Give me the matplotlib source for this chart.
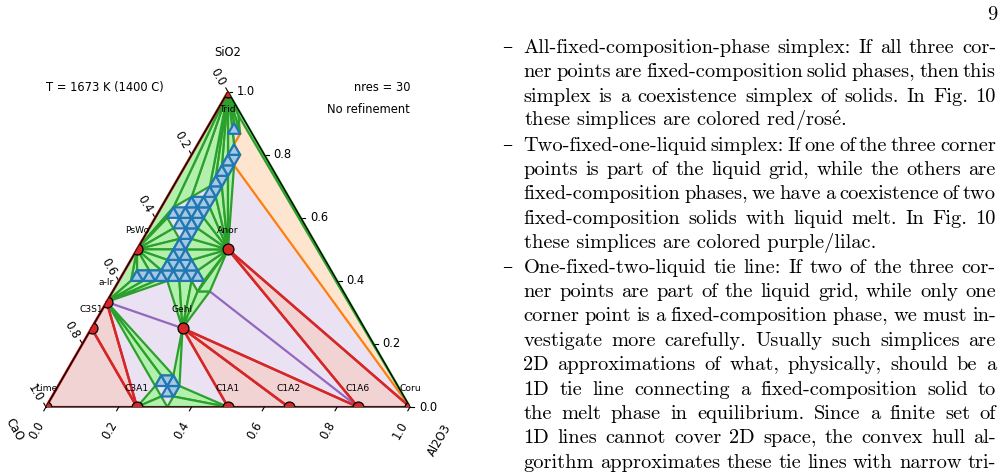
import numpy as np
import matplotlib
matplotlib.use("Agg")
import matplotlib.pyplot as plt
from matplotlib.patches import Polygon

plt.rcParams["mathtext.fontset"] = "cm"

W, H, DPI = 1002, 473, 100
N = 30                      # nres
R3 = np.sqrt(3) / 2

# fixed-composition phases: mole fractions of Al2O3 and SiO2 (rest is CaO)
PHASES = ["Lime", "C3A1", "C1A1", "C1A2", "C1A6", "Coru",
          "Trid", "Anor", "Gehl", "PsWo", "a-lr", "C3S1"]
PH_AL2O3 = [0, 1/4, 1/2, 2/3, 6/7, 1, 0, 1/4, 1/4, 0, 0, 0]
PH_SIO2 = [0, 0, 0, 0, 0, 0, 1, 1/2, 1/4, 1/2, 1/3, 1/4]

# extra liquid point close to the SiO2-Al2O3 side
G0_AL2O3, G0_SIO2 = 0.066, 0.925

# liquid grid points: row j (SiO2 index) with Al2O3 index range
LIQ_J = [0, 1, 2, 3, 11, 12, 13, 14, 15, 16, 17, 18, 19, 20, 21, 22, 23, 24, 25, 26, 27]
LIQ_IMIN = [10, 9, 8, 8, 7, 1, 1, 3, 3, 3, 2, 1, 1, 2, 3, 3, 3, 3, 3, 2, 2]
LIQ_IMAX = [10, 10, 10, 9, 7, 7, 6, 5, 4, 4, 4, 4, 4, 4, 4, 4, 4, 4, 3, 3, 2]

# green fans: solid -> liquid points (i, j) on the liquid boundary
FAN_TRID = ["G0", (3, 26), (2, 27), (2, 26), (3, 25), (3, 24), (3, 23), (3, 22),
            (3, 21), (2, 20), (1, 19), "PsWo"]
FAN_PSWO = [(1, 19), (1, 18), (2, 17), (3, 16), (3, 15), (3, 14), (3, 13),
            (2, 13), (1, 13), (1, 12)]
FAN_ALR_TOP = ["PsWo", (1, 12), (2, 12), (3, 12), (4, 12)]
FAN_GEHL_TOP = [(4, 12), (5, 12), (6, 12), (7, 11), (8, 11)]
FAN_ANOR = [(8, 11), (7, 11), (7, 12), (6, 13), (5, 14), (4, 15), (4, 16), (4, 17),
            (4, 18), (4, 19), (4, 20), (4, 21), (4, 22), (4, 23)]
FAN_ALR_LOW = [(8, 2), (8, 3), (9, 3)]
FAN_C3A1 = [(8, 2), (9, 1), (10, 0)]
FAN_GEHL_LOW = [(9, 3), (10, 2)]
FAN_C1A1 = [(10, 2), (10, 1), (10, 0)]
FANS = [("Trid", FAN_TRID), ("PsWo", FAN_PSWO), ("a-lr", FAN_ALR_TOP),
        ("Gehl", FAN_GEHL_TOP), ("Anor", FAN_ANOR), ("a-lr", FAN_ALR_LOW),
        ("C3A1", FAN_C3A1), ("Gehl", FAN_GEHL_LOW), ("C1A1", FAN_C1A1)]

PINK = [("Lime", "C3S1", "C3A1"), ("C3S1", "a-lr", "C3A1"), ("Gehl", "C1A1", "C1A2"),
        ("Gehl", "C1A2", "C1A6"), ("Anor", "C1A6", "Coru")]
RED_LINES = [("C3S1", "C3A1"), ("a-lr", "C3A1"), ("Gehl", "C1A1"), ("Gehl", "C1A2"),
             ("Gehl", "C1A6"), ("Anor", "C1A6"), ("Anor", "Coru"),
             ("Lime", "Trid"), ("Lime", "Coru")]
PURPLE_LINES = [("a-lr", "Gehl"), ((8, 11), "C1A6")]
PEACH = ["G0", (3, 26), (3, 25), (4, 24), (4, 23), "Coru"]
ORANGE_LINE = [(3, 26), (3, 25), (4, 24), (4, 23), "Coru"]
GREEN_BAND = ["Trid", "G0", "Coru"]

TICKS = [0.0, 0.2, 0.4, 0.6, 0.8, 1.0]

TEXT_LINES = [
    "All-fixed-composition-phase simplex: If all three cor-",
    "ner points are fixed-composition solid phases, then this",
    "simplex is a coexistence simplex of solids. In Fig. 10",
    r"these simplices are colored red/ros$\mathrm{\acute{e}}$.",
    "Two-fixed-one-liquid simplex: If one of the three corner",
    "points is part of the liquid grid, while the others are",
    "fixed-composition phases, we have a coexistence of two",
    "fixed-composition solids with liquid melt. In Fig. 10",
    "these simplices are colored purple/lilac.",
    "One-fixed-two-liquid tie line: If two of the three cor-",
    "ner points are part of the liquid grid, while only one",
    "corner point is a fixed-composition phase, we must in-",
    "vestigate more carefully. Usually such simplices are",
    "2D approximations of what, physically, should be a",
    "1D tie line connecting a fixed-composition solid to",
    "the melt phase in equilibrium. Since a finite set of",
    "1D lines cannot cover 2D space, the convex hull al-",
    "gorithm approximates these tie lines with narrow tri-",
]
BULLET_LINES = [0, 4, 9]
RAGGED_LINES = [3, 8]

C_LILAC, C_PINK, C_PEACH = "#eae1f2", "#f2d3d4", "#fde5cf"
C_GREEN_F, C_BLUE_F = "#b3f0ad", "#a6c8e1"
C_GREEN, C_BLUE, C_RED = "#2ca02c", "#1f77b4", "#d62728"
C_PURPLE, C_ORANGE = "#9467bd", "#ff7f0e"


def xy(a, s):
    return a + s / 2, s * R3


PT = {n: xy(a, s) for n, a, s in zip(PHASES, PH_AL2O3, PH_SIO2)}
PT["G0"] = xy(G0_AL2O3, G0_SIO2)


def pt(p):
    if isinstance(p, str):
        return PT[p]
    return xy(p[0] / N, p[1] / N)


fig = plt.figure(figsize=(W / DPI, H / DPI), dpi=DPI)
ax = fig.add_axes([46 / W, (H - 407) / H, 364 / W, 364 * R3 / H])
ax.set_xlim(0, 1)
ax.set_ylim(0, R3)
ax.axis("off")

corners = [pt("Lime"), pt("Coru"), pt("Trid")]
tri = Polygon(corners, closed=True, fc=C_LILAC, ec="none", zorder=1)
ax.add_patch(tri)

for t in PINK:
    ax.add_patch(Polygon([pt(p) for p in t], fc=C_PINK, ec=C_RED, lw=1.6, zorder=2))
ax.add_patch(Polygon([pt(p) for p in PEACH], fc=C_PEACH, ec="none", zorder=2))
for a_, b_ in PURPLE_LINES:
    (x0, y0), (x1, y1) = pt(a_), pt(b_)
    ax.plot([x0, x1], [y0, y1], color=C_PURPLE, lw=1.6, zorder=3)
xs, ys = zip(*[pt(p) for p in ORANGE_LINE])
ax.plot(xs, ys, color=C_ORANGE, lw=1.6, zorder=3)

# green (solid + liquid) fans
ax.add_patch(Polygon([pt(p) for p in GREEN_BAND], fc=C_GREEN_F, ec=C_GREEN, lw=1.6, zorder=4))
for apex, pts in FANS:
    for p, q in zip(pts[:-1], pts[1:]):
        ax.add_patch(Polygon([pt(apex), pt(p), pt(q)], fc=C_GREEN_F, ec=C_GREEN,
                             lw=1.6, joinstyle="round", zorder=4))

# liquid grid cells
liq = {(i, j) for j, lo, hi in zip(LIQ_J, LIQ_IMIN, LIQ_IMAX) for i in range(lo, hi + 1)}
for (i, j) in sorted(liq):
    for cell in ([(i, j), (i + 1, j), (i, j + 1)],
                 [(i + 1, j), (i, j + 1), (i + 1, j + 1)]):
        if all(c in liq for c in cell):
            ax.add_patch(Polygon([pt(c) for c in cell], fc=C_BLUE_F, ec=C_BLUE,
                                 lw=1.6, joinstyle="round", zorder=5))

for a_, b_ in RED_LINES:
    (x0, y0), (x1, y1) = pt(a_), pt(b_)
    ax.plot([x0, x1], [y0, y1], color=C_RED, lw=1.8, zorder=6)

cx, cy = zip(*(corners + corners[:1]))
ax.plot(cx, cy, color="black", lw=0.9, zorder=7, clip_on=False)

px, py = zip(*[pt(n) for n in PHASES])
dots = ax.scatter(px, py, s=62, c=C_RED, edgecolors="black", linewidths=0.9, zorder=8)
dots.set_clip_path(tri)

for n in PHASES:
    x, y = pt(n)
    if n == "Trid":
        ax.text(x, y - 0.05, n, fontsize=6.6, ha="center", va="center", zorder=9)
    else:
        ax.text(x, y + 0.052, n, fontsize=6.6, ha="center", va="center", zorder=9,
                clip_on=False)

# ternary ticks
L = 0.012
for v in TICKS:
    # bottom: Al2O3
    x, y = xy(v, 0)
    ax.plot([x, x - 0.5 * L], [y, y - R3 * L], color="black", lw=0.8, clip_on=False)
    ax.text(x - 0.026, y - 0.064, f"{v:.1f}", fontsize=8.3, rotation=60,
            ha="center", va="center", rotation_mode="anchor")
    # left: CaO
    x, y = xy(0, 1 - v)
    ax.plot([x, x - 0.5 * L], [y, y + R3 * L], color="black", lw=0.8, clip_on=False)
    ax.text(x - 0.028, y + 0.039, f"{v:.1f}", fontsize=8.3, rotation=-60,
            ha="center", va="center", rotation_mode="anchor")
    # right: SiO2
    x, y = xy(1 - v, v)
    ax.plot([x, x + L], [y, y], color="black", lw=0.8, clip_on=False)
    ax.text(x + 0.025, y, f"{v:.1f}", fontsize=8.3, ha="left", va="center")

ax.text(0.5, 0.975, "SiO2", fontsize=8.3, ha="center", va="center")
ax.text(-0.088, -0.063, "CaO", fontsize=8.3, rotation=-60, ha="center", va="center",
        rotation_mode="anchor")
ax.text(1.082, -0.091, "Al2O3", fontsize=8.3, rotation=60, ha="center", va="center",
        rotation_mode="anchor")
ax.text(0.0, 0.879, "T = 1673 K (1400 C)", fontsize=8.3, ha="left", va="center")
ax.text(1.0, 0.879, "nres = 30", fontsize=8.3, ha="right", va="center")
ax.text(1.0, 0.818, "No refinement", fontsize=8.3, ha="right", va="center")

# right column text (justified like the page)
serif = ["cmr10", "DejaVu Serif"]
FS = 14.7
X0, X1 = 523.5, 996.0
renderer = fig.canvas.get_renderer()
fig.text(997 / W, 1 - 20 / H, "9", fontsize=FS, family=serif, ha="right", va="baseline")
for k, line in enumerate(TEXT_LINES):
    yb = 1 - (53 + 24.4 * k) / H
    if k in BULLET_LINES:
        fig.text(507 / W, yb, "–", fontsize=FS, family=serif, ha="center", va="baseline")
    if k in RAGGED_LINES:
        fig.text(X0 / W, yb, line, fontsize=FS, family=serif, ha="left", va="baseline")
        continue
    words = line.split(" ")
    ts = [fig.text(0, yb, w, fontsize=FS, family=serif, ha="left", va="baseline")
          for w in words]
    widths = [t.get_window_extent(renderer).width for t in ts]
    gap = (X1 - X0 - sum(widths)) / (len(words) - 1)
    x = X0
    for t, w in zip(ts, widths):
        t.set_x(x / W)
        x += w + gap

fig.savefig("out.png", dpi=DPI)
